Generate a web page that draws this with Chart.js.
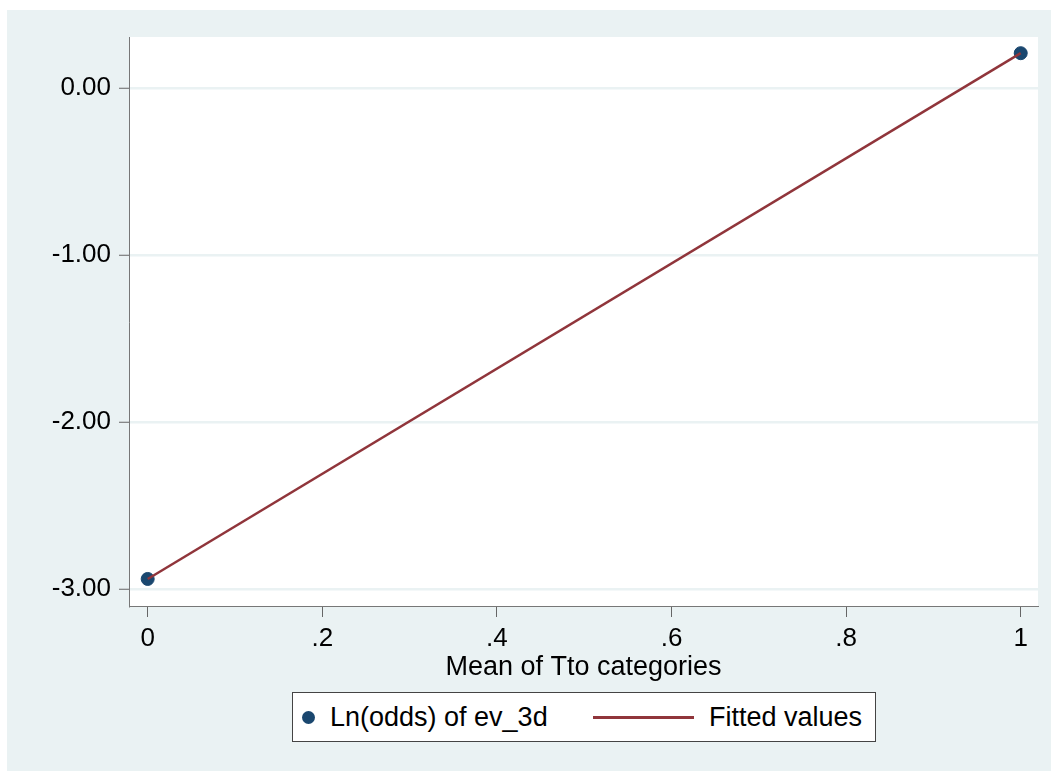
<!DOCTYPE html>
<html>
<head>
<meta charset="utf-8">
<script src="https://cdn.jsdelivr.net/npm/chart.js"></script>
<style>
    html, body { margin: 0; background: #fff; overflow: hidden; font-family: "Liberation Sans", Arial, sans-serif; }
    #wrap { position: absolute; left: 7px; top: 10px; width: 1060px; height: 780px; background: #EAF2F3; }
    #legend { position: absolute; left: 292px; top: 692px; width: 582px; height: 48px; background: #fff; border: 1px solid #444; }
    #legend span { position: absolute; }
    .lbl { font-size: 27px; line-height: 30px; color: #000; white-space: nowrap; }
</style>
</head>
<body>
<div id="wrap">
    <canvas id="myChart" width="1044" height="761"></canvas>
</div>
<div id="legend">
    <span style="left:9px; top:18px; width:13px; height:13px; border-radius:50%; background:#1A476F;"></span>
    <span class="lbl" style="left:37px; top:9px;">Ln(odds) of ev_3d</span>
    <span style="left:300px; top:23px; width:101px; height:3px; background:#90353B;"></span>
    <span class="lbl" style="left:416px; top:9px;">Fitted values</span>
</div>
<script>
var xValues = [0, 1];
var lnOdds = [-2.94, 0.21];
var fittedValues = [-2.94, 0.21];
var yTicks = [-3, -2, -1, 0];
var xTicks = [0, 0.2, 0.4, 0.6, 0.8, 1];
var xTickLabels = ["0", ".2", ".4", ".6", ".8", "1"];

// white plot region on the bluish background
var plotBackground = {
    id: 'plotBackground',
    beforeDraw: function(chart) {
        var a = chart.chartArea;
        var c = chart.ctx;
        c.save();
        c.fillStyle = '#ffffff';
        c.fillRect(a.left, a.top, a.right - a.left, a.bottom - a.top);
        c.restore();
    }
};

var ctx = document.getElementById('myChart').getContext('2d');
var myChart = new Chart(ctx, {
    type: 'scatter',
    data: {
        datasets: [{
            label: 'Fitted values',
            type: 'line',
            data: xValues.map(function(x, i) { return { x: x, y: fittedValues[i] }; }),
            borderColor: '#90353B',
            borderWidth: 2.5,
            pointRadius: 0,
            fill: false,
            order: 0
        }, {
            label: 'Ln(odds) of ev_3d',
            data: xValues.map(function(x, i) { return { x: x, y: lnOdds[i] }; }),
            backgroundColor: '#1A476F',
            borderColor: '#1A476F',
            pointRadius: 6.5,
            order: 1
        }]
    },
    options: {
        responsive: false,
        animation: false,
        layout: {
            padding: { left: 0, top: 27, right: 13, bottom: 87 }
        },
        plugins: {
            legend: { display: false },
            tooltip: { enabled: false }
        },
        scales: {
            x: {
                type: 'linear',
                min: -0.0214,
                max: 1.0198,
                afterBuildTicks: function(scale) {
                    scale.ticks = xTicks.map(function(v) { return { value: v }; });
                },
                afterFit: function(scale) { scale.height = 78; },
                ticks: {
                    color: '#000',
                    font: { family: '"Liberation Sans", Arial', size: 26 },
                    padding: 6,
                    maxRotation: 0,
                    callback: function(value, index) { return xTickLabels[index]; }
                },
                grid: {
                    drawOnChartArea: false,
                    drawTicks: true,
                    tickLength: 11,
                    tickColor: '#666',
                    tickWidth: 1
                },
                border: { color: '#777', width: 1 },
                title: {
                    display: true,
                    text: 'Mean of Tto categories',
                    color: '#000',
                    font: { family: '"Liberation Sans", Arial', size: 27 },
                    padding: 0
                }
            },
            y: {
                type: 'linear',
                min: -3.102,
                max: 0.307,
                afterBuildTicks: function(scale) {
                    scale.ticks = yTicks.map(function(v) { return { value: v }; });
                },
                afterFit: function(scale) { scale.width = 122; },
                ticks: {
                    color: '#000',
                    font: { family: '"Liberation Sans", Arial', size: 26 },
                    padding: 8,
                    callback: function(value) { return value.toFixed(2); }
                },
                grid: {
                    color: '#EAF2F3',
                    lineWidth: 2.5,
                    drawTicks: true,
                    tickLength: 10,
                    tickColor: '#666',
                    tickWidth: 1
                },
                border: { color: '#777', width: 1 }
            }
        }
    },
    plugins: [plotBackground]
});
</script>
</body>
</html>
